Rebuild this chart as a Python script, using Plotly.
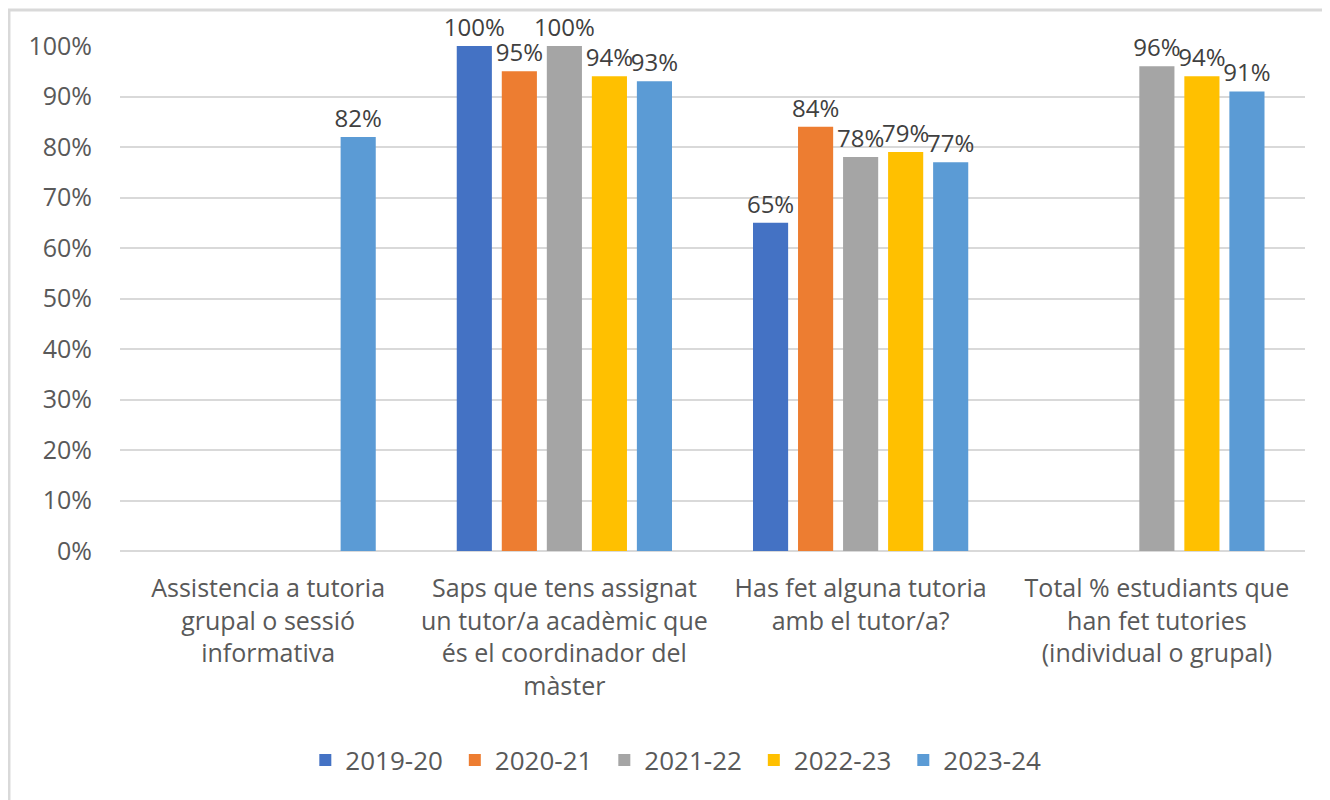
import plotly.graph_objects as go

categories = [
    "Assistencia a tutoria<br>grupal o sessió<br>informativa",
    "Saps que tens assignat<br>un tutor/a acadèmic que<br>és el coordinador del<br>màster",
    "Has fet alguna tutoria<br>amb el tutor/a?",
    "Total % estudiants que<br>han fet tutories<br>(individual o grupal)",
]
series_names = ["2019-20", "2020-21", "2021-22", "2022-23", "2023-24"]
v_2019_20 = [None, 1.00, 0.65, None]
v_2020_21 = [None, 0.95, 0.84, None]
v_2021_22 = [None, 1.00, 0.78, 0.96]
v_2022_23 = [None, 0.94, 0.79, 0.94]
v_2023_24 = [0.82, 0.93, 0.77, 0.91]
series_values = [v_2019_20, v_2020_21, v_2021_22, v_2022_23, v_2023_24]
colors = ["#4472C4", "#ED7D31", "#A5A5A5", "#FFC000", "#5B9BD5"]

FONT = "Open Sans"

fig = go.Figure()
for name, vals, col in zip(series_names, series_values, colors):
    fig.add_trace(go.Bar(
        x=categories, y=vals, name=name,
        marker=dict(color=col, line=dict(width=0)),
        text=[f"{v*100:.0f}%" if v is not None else "" for v in vals],
        textposition="outside",
        constraintext="none",
        cliponaxis=False,
        textfont=dict(family=FONT, size=24, color="#404040"),
        hoverinfo="skip",
    ))

fig.update_layout(
    width=1330, height=800,
    paper_bgcolor="white", plot_bgcolor="white",
    margin=dict(l=112, r=33, t=38, b=257),
    barmode="group", bargap=0.24, bargroupgap=0.22,
    font=dict(family=FONT, size=25, color="#595959"),
    showlegend=True,
    legend=dict(orientation="h", x=0.472, xanchor="center", y=-0.414, yanchor="middle",
                font=dict(family=FONT, size=26, color="#595959"),
                itemwidth=30, tracegroupgap=0, entrywidth=104.5, entrywidthmode="pixels"),
    shapes=[dict(type="rect", xref="paper", yref="paper",
                 x0=-0.0937, x1=1.05, y0=-0.6, y1=1.0713,
                 line=dict(color="#D9D9D9", width=3), fillcolor="rgba(0,0,0,0)", layer="below")],
)
fig.update_xaxes(showgrid=False, showline=False, ticks="", tickfont=dict(size=25, color="#595959"),
                 ticklabelstandoff=20, automargin=False)
fig.update_yaxes(range=[0, 1], dtick=0.1, tickformat=".0%", showgrid=True, gridcolor="#D9D9D9",
                 gridwidth=2, zeroline=True, zerolinecolor="#D9D9D9", zerolinewidth=2,
                 showline=False, ticks="", tickfont=dict(size=25, color="#595959"),
                 ticklabelstandoff=27, automargin=False)

fig.write_html("out.html")
